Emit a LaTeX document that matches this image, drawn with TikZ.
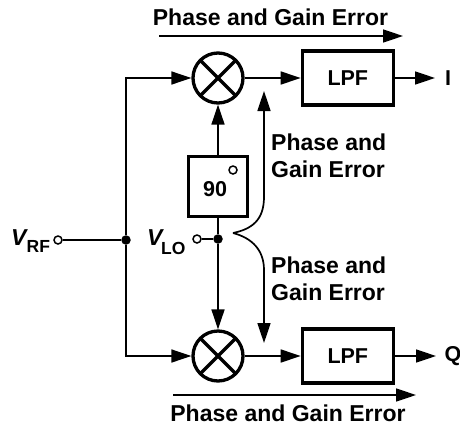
\documentclass[tikz,border=0pt]{standalone}
\usepackage{xcolor}
\usepackage{fontspec}
\setmainfont{Liberation Sans}
\usepackage{tikz}
\usetikzlibrary{arrows.meta, positioning, calc}

\newcommand{\lab}{\fontsize{23}{26.5}\selectfont\bfseries}
\newcommand{\labs}{\fontsize{21.5}{26}\selectfont\bfseries}
\newcommand{\subs}{\fontsize{17.5}{20}\selectfont\bfseries}

\begin{document}
\begin{tikzpicture}[
    x=1pt, y=1pt,
    mixer/.style={circle, draw, line width=3.3pt, minimum size=50pt, inner sep=0pt,
        path picture={
            \draw[line width=3.3pt] (path picture bounding box.north west) -- (path picture bounding box.south east);
            \draw[line width=3.3pt] (path picture bounding box.north east) -- (path picture bounding box.south west);
        }},
    lpf/.style={rectangle, draw, line width=3.3pt, minimum width=91pt, minimum height=54pt, font=\labs},
    shifter/.style={rectangle, draw, line width=3.8pt, minimum width=59pt, minimum height=60pt},
    port/.style={circle, draw, line width=1.5pt, fill=white, minimum size=8pt, inner sep=0pt},
    dot/.style={circle, fill, minimum size=9.5pt, inner sep=0pt},
    arr/.style={-{Triangle[length=20pt, width=13pt]}, line width=1.7pt},
    wire/.style={line width=1.7pt},
    txt/.style={font=\lab, align=left, inner sep=0pt},
]
\useasboundingbox (0,0) rectangle (460,-426);

\node[mixer] (mixI) at (218,-78) {};
\node[mixer] (mixQ) at (218,-356) {};
\node[lpf, right=56pt of mixI] (lpfI) {LPF};
\node[lpf, right=56pt of mixQ] (lpfQ) {LPF};
\node[shifter] (shift) at (218,-186.5) {};
\node[font=\labs, inner sep=0pt] (ninety) at (215,-189) {90};
\node[port] (deg) at (233,-170) {};

\node[port] (rf) at (58,-240) {};
\node[dot] (rfdot) at (126,-240) {};
\node[port] (lo) at (197,-239) {};
\node[dot] (lodot) at (218,-239) {};
\node[font=\lab, inner sep=0pt, anchor=base west] (rflab) at (11,-245) {\textit{V}\kern-1.5pt\raisebox{-7.5pt}{\subs RF}};
\node[font=\lab, inner sep=0pt, anchor=base west] (lolab) at (147,-245) {\textit{V}\kern-3pt\raisebox{-9pt}{\subs LO}};

\node[font=\labs, inner sep=0pt] (outI) at (448,-78) {I};
\node[font=\labs, inner sep=0pt] (outQ) at (453,-356) {Q};
\coordinate (tipI) at (435,-78);
\coordinate (tipQ) at (436,-356);

\coordinate (topA) at (159,-36);
\coordinate (topB) at (403,-36);
\coordinate (botA) at (173,-395);
\coordinate (botB) at (416,-395);
\node[txt, anchor=base] (errtop) at (270.5,-25) {Phase and Gain Error};
\node[txt, anchor=base] (errbot) at (288,-421.5) {Phase and Gain Error};
\node[txt, anchor=north west] (erru) at (271,-134) {Phase and\\Gain Error};
\node[txt, anchor=north west] (errd) at (271,-257) {Phase and\\Gain Error};

\coordinate (brace) at (233,-233);
\coordinate (braceu) at (264,-197);
\coordinate (braced) at (264,-270);
\coordinate (tipu) at (264,-91);
\coordinate (tipd) at (264,-343);

% signal path
\draw[wire] (rf) -- (rfdot);
\draw[arr] (rfdot) |- (mixI);
\draw[arr] (rfdot) |- (mixQ);
\draw[wire] (lo) -- (lodot);
\draw[wire] (lodot) -- (shift);
\draw[arr] (shift) -- (mixI);
\draw[arr] (lodot) -- (mixQ);
\draw[arr] (mixI) -- (lpfI);
\draw[arr] (mixQ) -- (lpfQ);
\draw[arr] (lpfI) -- (tipI);
\draw[arr] (lpfQ) -- (tipQ);

% error arrows
\draw[arr] (topA) -- (topB);
\draw[arr] (botA) -- (botB);
\draw[arr] (brace) .. controls (252,-229) and (264,-220) .. (braceu) -- (tipu);
\draw[arr] (brace) .. controls (252,-238) and (264,-250) .. (braced) -- (tipd);
\end{tikzpicture}
\end{document}
